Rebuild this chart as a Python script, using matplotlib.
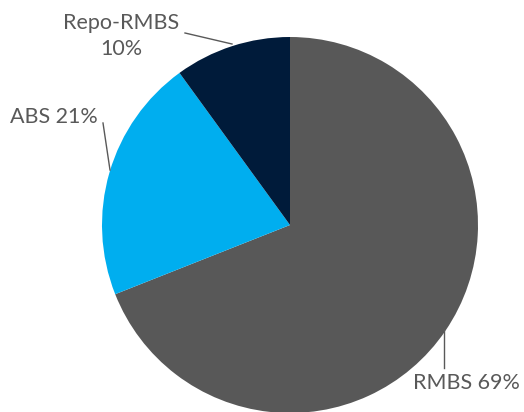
import numpy as np
import matplotlib.pyplot as plt

labels = ["RMBS 69%", "ABS 21%", "Repo-RMBS\n10%"]
shares = [69, 21, 10]
colors = ["#585858", "#00AEEF", "#001B3A"]

W, H = 524, 412


def main():
    plt.rcParams["font.family"] = ["Lato", "DejaVu Sans"]
    fig = plt.figure(figsize=(W / 100, H / 100), dpi=100)
    ax = fig.add_axes([0, 0, 1, 1])
    ax.set_xlim(0, W)
    ax.set_ylim(0, H)
    ax.set_aspect("equal")
    ax.axis("off")

    cx, cy, r = 290, H - 225, 188
    ax.pie(shares, colors=colors, startangle=90, counterclock=False,
           center=(cx, cy), radius=r, wedgeprops=dict(linewidth=0))
    ax.set_xlim(0, W)
    ax.set_ylim(0, H)

    tc = "#595959"
    lc = "#595959"
    # leader lines (screen coords, y down)
    leaders = [
        [(444, 330), (444, 368)],
        [(103, 123), (110, 170)],
        [(185, 33), (232, 44)],
    ]
    for seg in leaders:
        xs = [p[0] for p in seg]
        ys = [H - p[1] for p in seg]
        ax.plot(xs, ys, color=lc, lw=1)

    fs = 15.5
    ax.text(466, H - 383, labels[0], ha="center", va="center", fontsize=fs, color=tc)
    ax.text(54, H - 117, labels[1], ha="center", va="center", fontsize=fs, color=tc)
    ax.text(121, H - 36, labels[2], ha="center", va="center", fontsize=fs,
            color=tc, linespacing=1.4)

    fig.savefig("out.png", dpi=100)


if __name__ == "__main__":
    main()
